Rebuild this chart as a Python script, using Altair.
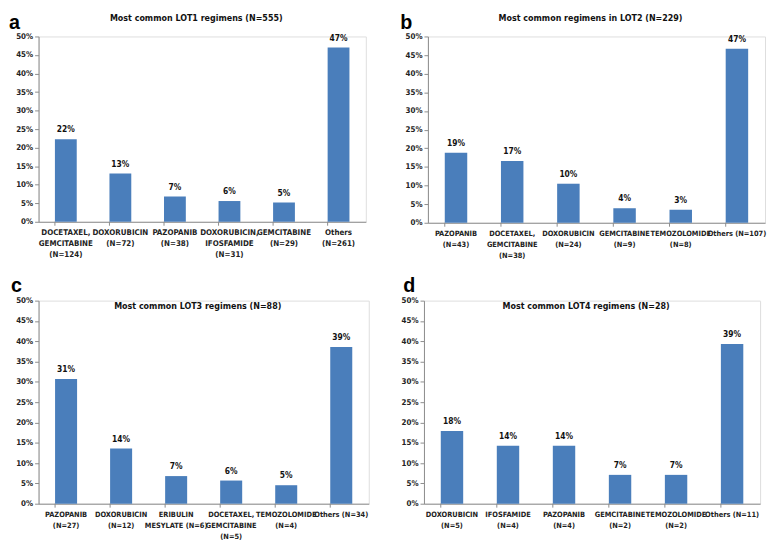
import altair as alt
import pandas as pd

# ---- data ----
cats_a = ["DOCETAXEL,|GEMCITABINE|(N=124)", "DOXORUBICIN|(N=72)", "PAZOPANIB|(N=38)",
          "DOXORUBICIN,|IFOSFAMIDE|(N=31)", "GEMCITABINE|(N=29)", "Others|(N=261)"]
vals_a = [0.223, 0.130, 0.068, 0.056, 0.052, 0.470]

cats_b = ["PAZOPANIB|(N=43)", "DOCETAXEL,|GEMCITABINE|(N=38)", "DOXORUBICIN|(N=24)",
          "GEMCITABINE|(N=9)", "TEMOZOLOMIDE|(N=8)", "Others (N=107)"]
vals_b = [0.188, 0.166, 0.1048, 0.039, 0.0349, 0.467]

cats_c = ["PAZOPANIB|(N=27)", "DOXORUBICIN|(N=12)", "ERIBULIN|MESYLATE (N=6)",
          "DOCETAXEL,|GEMCITABINE|(N=5)", "TEMOZOLOMIDE|(N=4)", "Others (N=34)"]
vals_c = [0.307, 0.136, 0.068, 0.057, 0.0455, 0.386]

cats_d = ["DOXORUBICIN|(N=5)", "IFOSFAMIDE|(N=4)", "PAZOPANIB|(N=4)",
          "GEMCITABINE|(N=2)", "TEMOZOLOMIDE|(N=2)", "Others (N=11)"]
vals_d = [0.179, 0.143, 0.143, 0.071, 0.071, 0.393]

titles = ["Most common  LOT1 regimens (N=555)",
          "Most common  regimens in LOT2 (N=229)",
          "Most common  LOT3 regimens (N=88)",
          "Most common  LOT4 regimens (N=28)"]
letters = ["a", "b", "c", "d"]
y_ticks = [0, 0.05, 0.10, 0.15, 0.20, 0.25, 0.30, 0.35, 0.40, 0.45, 0.50]

FONT = "'DejaVu Sans Condensed', 'Liberation Sans Narrow', Lato"
BAR = "#4a7ebb"
AXIS = "#8c8c8c"


def panel(letter, title, cats, vals, w, h, title_y, label_size, letter_x, letter_y):
    df = pd.DataFrame({"cat": cats, "val": vals})
    base = alt.Chart(df)
    xscale = alt.Scale(paddingInner=0.6, paddingOuter=0.3)
    x = alt.X("cat:N", sort=cats, scale=xscale,
              axis=alt.Axis(title=None, labelAngle=0, orient="bottom",
                            labelExpr="split(datum.value, '|')",
                            ticks=False, labelFontWeight="bold",
                            labelFontSize=label_size, labelLimit=300,
                            labelOverlap=False, labelColor="#222222",
                            domainColor=AXIS, labelPadding=7,
                            labelLineHeight=11, labelFont=FONT))
    y = alt.Y("val:Q", scale=alt.Scale(domain=[0, 0.5]),
              axis=alt.Axis(title=None, values=y_ticks, format=".0%", grid=False,
                            labelFontSize=8, labelFontWeight="bold",
                            labelColor="#222222", domainColor=AXIS,
                            tickColor=AXIS, tickSize=4, labelPadding=2,
                            labelFont=FONT))
    bars = base.mark_bar(color=BAR).encode(x=x, y=y)
    text = base.mark_text(dy=-10, fontSize=8.5, fontWeight="bold", font=FONT,
                          color="#111111").encode(
        x=x, y=y, text=alt.Text("val:Q", format=".0%"))
    tick_l = base.mark_rule(color=AXIS).encode(
        x=alt.X("cat:N", sort=cats, bandPosition=0),
        y=alt.value(h), y2=alt.value(h + 4))
    ttl = alt.Chart(pd.DataFrame({"t": [title]})).mark_text(
        fontSize=9, fontWeight="bold", font=FONT, color="#111111"
    ).encode(x=alt.value(w / 2 - 6), y=alt.value(title_y), text="t:N")
    let = alt.Chart(pd.DataFrame({"t": [letter]})).mark_text(
        fontSize=20, fontWeight="bold", font="Liberation Sans", color="#000000",
        align="left", baseline="alphabetic"
    ).encode(x=alt.value(letter_x), y=alt.value(letter_y), text="t:N")
    return alt.layer(bars, text, tick_l, ttl, let).properties(
        width=w, height=h)


pa = panel("a", titles[0], cats_a, vals_a, 332, 188, -19, 8, -30, -8)
pb = panel("b", titles[1], cats_b, vals_b, 342, 189, -19, 7.5, -28, -8)
pc = panel("c", titles[2], cats_c, vals_c, 335, 206, 5, 7.5, -28, -9)
pd_ = panel("d", titles[3], cats_d, vals_d, 341, 206, 5, 7.5, -21, -9)

row1 = alt.hconcat(pa, pb, spacing=33)
row2 = alt.hconcat(pc, pd_, spacing=31)
chart = alt.vconcat(row1, row2, spacing=16).properties(padding=0).configure_view(
    stroke="transparent", strokeWidth=0).configure(background="white")

chart.save("out.html", embed_options={"renderer": "svg", "actions": False})
